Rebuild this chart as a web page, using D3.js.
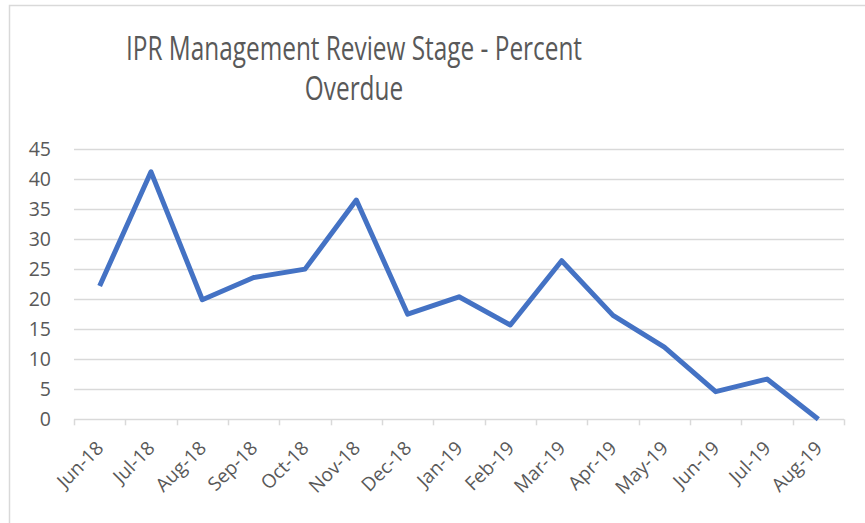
<!DOCTYPE html>
<html>
<head>
<meta charset="utf-8">
<script src="https://cdn.jsdelivr.net/npm/d3@7"></script>
<style>
  body { margin: 0; background: #fff; }
  text { font-family: 'Open Sans', 'Noto Sans', sans-serif; fill: #595959; }
</style>
</head>
<body>
<div id="chart"></div>
<script>
let months = ['Jun-18', 'Jul-18', 'Aug-18', 'Sep-18', 'Oct-18', 'Nov-18', 'Dec-18',
  'Jan-19', 'Feb-19', 'Mar-19', 'Apr-19', 'May-19', 'Jun-19', 'Jul-19', 'Aug-19']

let percentOverdue = [22.2, 41.2, 19.9, 23.6, 25.0, 36.5, 17.5,
  20.4, 15.7, 26.4, 17.3, 12.0, 4.6, 6.7, 0]

let yTicks = [0, 5, 10, 15, 20, 25, 30, 35, 40, 45]

let titleLines = ['IPR Management Review Stage - Percent', 'Overdue']

let width = 865
let height = 523
let margin = { top: 149, left: 74, right: 21, bottom: 104 }

let svg = d3
  .select('#chart')
  .append('svg')
  .attr('width', width)
  .attr('height', height)

// chart frame (only left and top edges show in the crop)
svg
  .append('rect')
  .attr('x', 9.5)
  .attr('y', 5.5)
  .attr('width', width + 20)
  .attr('height', height + 20)
  .attr('fill', 'none')
  .attr('stroke', '#d9d9d9')
  .attr('stroke-width', 1.5)

let x = d3
  .scaleBand()
  .domain(months)
  .range([margin.left, width - margin.right])

let y = d3
  .scaleLinear()
  .domain([0, 45])
  .range([height - margin.bottom + 0.3, margin.top])

// gridlines
svg
  .append('g')
  .selectAll('.grid')
  .data(yTicks)
  .enter()
  .append('line')
  .attr('class', 'grid')
  .attr('x1', margin.left)
  .attr('x2', width - margin.right)
  .attr('y1', d => Math.round(y(d)) + 0.5)
  .attr('y2', d => Math.round(y(d)) + 0.5)
  .attr('stroke', '#d9d9d9')
  .attr('stroke-width', 1.5)

// y labels
svg
  .append('g')
  .selectAll('.ylabel')
  .data(yTicks)
  .enter()
  .append('text')
  .attr('class', 'ylabel')
  .attr('x', 51)
  .attr('y', d => y(d))
  .attr('dy', '0.36em')
  .attr('text-anchor', 'end')
  .style('font-size', '19.5px')
  .text(d => d)

// x tick marks at category boundaries
let boundaries = months.map(m => x(m)).concat([x.range()[1]])
svg
  .append('g')
  .selectAll('.xtick')
  .data(boundaries)
  .enter()
  .append('line')
  .attr('class', 'xtick')
  .attr('x1', d => Math.round(d) + 0.5)
  .attr('x2', d => Math.round(d) + 0.5)
  .attr('y1', y(0))
  .attr('y2', y(0) + 6)
  .attr('stroke', '#d9d9d9')
  .attr('stroke-width', 1.5)

// x labels
svg
  .append('g')
  .selectAll('.xlabel')
  .data(months)
  .enter()
  .append('text')
  .attr('class', 'xlabel')
  .attr('transform', d => `translate(${x(d) + x.bandwidth() / 2 + 5},${y(0) + 30}) rotate(-45)`)
  .attr('text-anchor', 'end')
  .style('font-size', '19px')
  .text(d => d)

// line
let line = d3
  .line()
  .x((d, i) => x(months[i]) + x.bandwidth() / 2)
  .y(d => y(d))

svg
  .append('path')
  .datum(percentOverdue)
  .attr('d', line)
  .attr('fill', 'none')
  .attr('stroke', '#4472C4')
  .attr('stroke-width', 5)
  .attr('stroke-linejoin', 'round')

// title (squeezed to get close to the narrow Calibri Light look)
let title = svg
  .append('g')
  .selectAll('.title')
  .data(titleLines)
  .enter()
  .append('text')
  .attr('class', 'title')
  .attr('x', 354)
  .attr('y', (d, i) => 60 + i * 40)
  .attr('text-anchor', 'middle')
  .style('font-size', '32px')
  .text(d => d)

let squeeze = 456 / title.node().getComputedTextLength()
title.each(function() {
  let t = d3.select(this)
  t.attr('textLength', this.getComputedTextLength() * squeeze)
    .attr('lengthAdjust', 'spacingAndGlyphs')
})
</script>
</body>
</html>
